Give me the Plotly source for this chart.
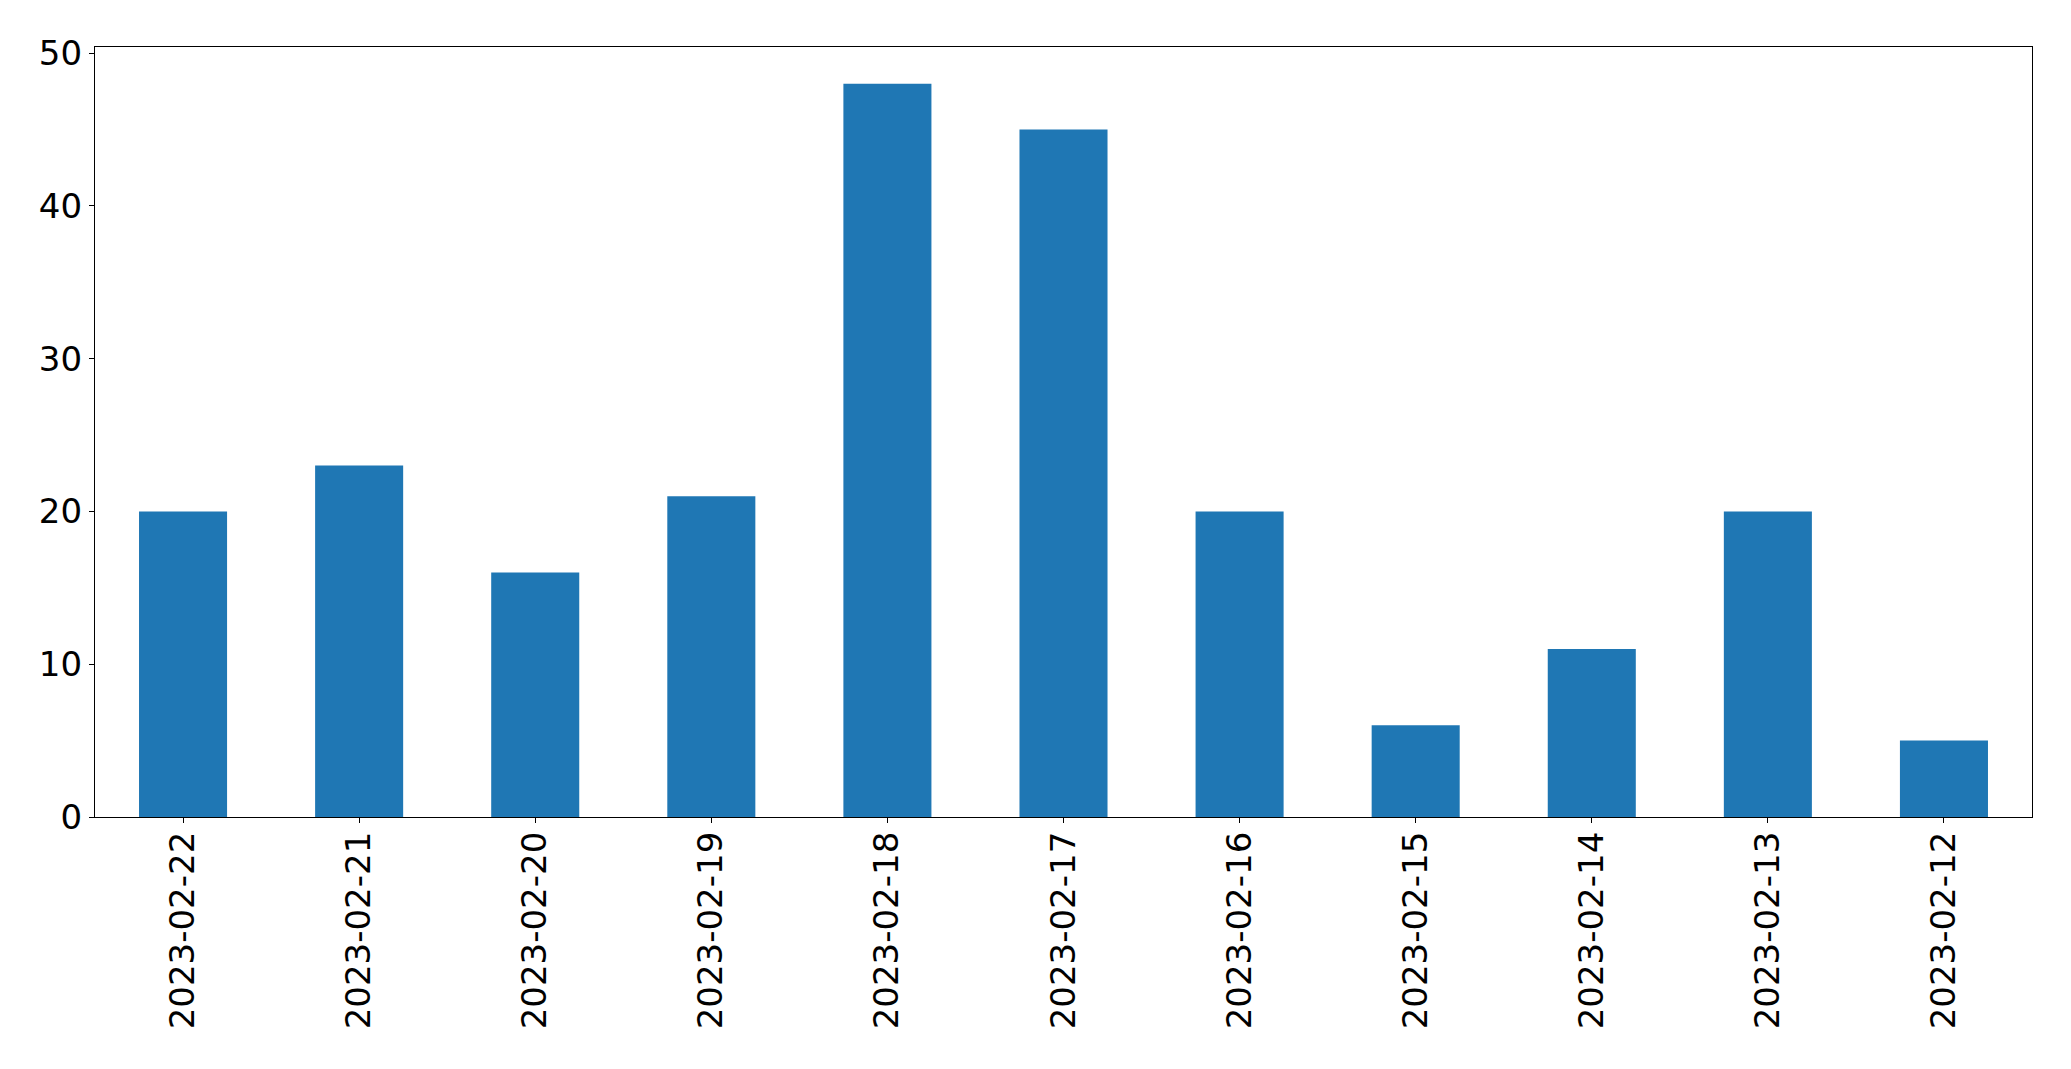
import plotly.graph_objects as go

dates = ["2023-02-22", "2023-02-21", "2023-02-20", "2023-02-19", "2023-02-18",
         "2023-02-17", "2023-02-16", "2023-02-15", "2023-02-14", "2023-02-13", "2023-02-12"]
counts = [20, 23, 16, 21, 48, 45, 20, 6, 11, 20, 5]

fig = go.Figure(go.Bar(x=dates, y=counts, marker_color="#1f77b4", marker_line_width=0, width=0.5))

axis_common = dict(showline=True, linecolor="black", linewidth=1.3, mirror=True,
                   ticks="outside", ticklen=5, tickwidth=1.3, tickcolor="black",
                   showgrid=False, zeroline=False,
                   tickfont=dict(family="DejaVu Sans", size=34, color="black"))

fig.update_layout(
    width=2055, height=1053,
    margin=dict(l=87, r=31, t=39, b=244),
    plot_bgcolor="white", paper_bgcolor="white",
    showlegend=False,
    xaxis=dict(type="category", range=[-0.5, 10.5], tickangle=-90,
               ticklabelstandoff=-5, **axis_common),
    yaxis=dict(range=[0, 50.4], tickvals=[0, 10, 20, 30, 40, 50], **axis_common),
)

fig.write_html("out.html")
